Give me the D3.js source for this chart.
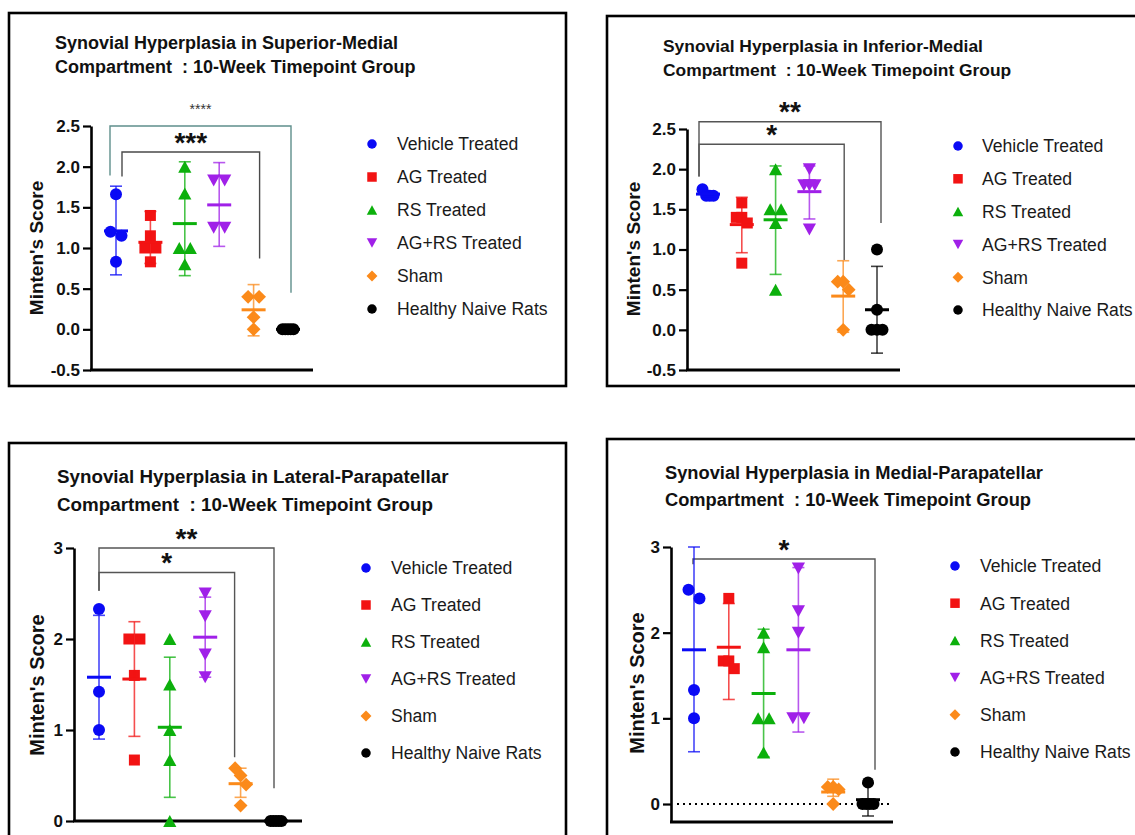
<!DOCTYPE html>
<html>
<head>
<meta charset="utf-8">
<script src="https://cdn.jsdelivr.net/npm/d3@7"></script>
<style>
  body { margin: 0; background: #fff; }
  svg { display: block; }
  .title { font-family: "Liberation Sans", Arial, sans-serif; font-weight: bold; fill: #111; white-space: pre; }
  .ylab { font-family: "Liberation Sans", Arial, sans-serif; font-weight: bold; fill: #111; }
  .tick text { font-family: "Liberation Sans", Arial, sans-serif; font-weight: bold; font-size: 17px; fill: #111; }
  .leg { font-family: "Liberation Sans", Arial, sans-serif; font-size: 17.6px; fill: #1a1a1a; }
</style>
</head>
<body>
<div id="chart-area"></div>
<script>
// groups + colours
var groups = ["Vehicle Treated", "AG Treated", "RS Treated", "AG+RS Treated", "Sham", "Healthy Naive Rats"];
var colors = ["#0a0af5", "#f21313", "#0cb00c", "#a020e8", "#fb8a1a", "#000000"];
var shapes = ["circle", "square", "triUp", "triDown", "diamond", "circle"];

// panel 1 - superior-medial
var sm_points = [[1.66, 1.2, 1.15, 0.83], [1.4, 1.15, 1.0, 1.0, 0.83], [2.0, 1.67, 1.0, 1.0, 0.8],
                 [1.83, 1.83, 1.25, 1.25], [0.4, 0.4, 0.15, 0], [0, 0, 0, 0, 0]];
var sm_mean = [1.21, 1.07, 1.3, 1.53, 0.24, 0];
var sm_hi = [1.76, 1.45, 2.06, 2.05, 0.55, 0];
var sm_lo = [0.67, 0.81, 0.66, 1.02, -0.08, 0];

// panel 2 - inferior-medial
var im_points = [[1.75, 1.67, 1.67, 1.67], [1.58, 1.4, 1.4, 1.33, 0.83], [2.0, 1.5, 1.5, 1.33, 0.5],
                 [2.0, 1.8, 1.8, 1.8, 1.25], [0.6, 0.6, 0.5, 0], [1.0, 0.25, 0, 0, 0]];
var im_mean = [1.69, 1.31, 1.37, 1.72, 0.42, 0.25];
var im_hi = [1.73, 1.65, 2.04, 2.04, 0.86, 0.79];
var im_lo = [1.66, 0.96, 0.69, 1.38, -0.03, -0.29];

// panel 3 - lateral-parapatellar
var lp_points = [[2.33, 1.42, 1.0], [2.0, 2.0, 1.6, 0.67], [2.0, 1.5, 1.0, 0.67, 0],
                 [2.5, 2.25, 1.83, 1.58], [0.58, 0.5, 0.4, 0.17], [0, 0, 0, 0, 0]];
var lp_mean = [1.58, 1.56, 1.03, 2.02, 0.41, 0];
var lp_hi = [2.26, 2.19, 1.8, 2.46, 0.58, 0];
var lp_lo = [0.9, 0.93, 0.26, 1.58, 0.26, 0];

// panel 4 - medial-parapatellar
var mp_points = [[2.5, 2.4, 1.33, 1.0], [2.4, 1.67, 1.67, 1.58], [2.0, 1.83, 1.0, 1.0, 0.6],
                 [2.75, 2.25, 2.0, 1.0, 1.0], [0.2, 0.2, 0.17, 0], [0.25, 0, 0, 0, 0]];
var mp_mean = [1.8, 1.83, 1.29, 1.8, 0.14, 0.05];
var mp_hi = [3.0, 2.34, 2.04, 2.76, 0.29, 0.24];
var mp_lo = [0.61, 1.22, 0.55, 0.84, 0.09, -0.14];

// significance brackets: [from, to, top, leftEnd, rightEnd, label]
var sm_sig = [[0, 5, 2.5, 1.89, 0.45, "****"], [0, 4, 2.18, 1.88, 0.87, "***"]];
var im_sig = [[0, 5, 2.59, 1.91, 1.33, "**"], [0, 4, 2.31, 1.91, 0.87, "*"]];
var lp_sig = [[0, 5, 3.0, 2.53, 0.36, "**"], [0, 4, 2.73, 2.53, 0.7, "*"]];
var mp_sig = [[0, 5, 2.86, 2.8, 0.4, "*"]];

var panels = [
  { frame: [9, 13, 566, 386], title: ["Synovial Hyperplasia in Superior-Medial", "Compartment  : 10-Week Timepoint Group"],
    tx: 55, ty: [49, 73], tsize: 18, ydom: [-0.5, 2.5], yr: [370, 126], ticks: [-0.5, 0, 0.5, 1, 1.5, 2, 2.5], fmt: ".1f",
    ax: 91, axEnd: 313, xr: [116, 288], lab: [36, 248, 19], leg: [372, 397, 144, 33],
    pts: sm_points, mean: sm_mean, hi: sm_hi, lo: sm_lo, sig: sm_sig,
    nudge: [[-6, 3], [6, 6]], sigCol: ["#5f8f8c", "#4a4a4a"], sigSize: [14, 28], sigW: ["normal", "bold"] },
  { frame: [607, 16, 1145, 386], title: ["Synovial Hyperplasia in Inferior-Medial", "Compartment  : 10-Week Timepoint Group"],
    tx: 663, ty: [52, 76], tsize: 17.4, ydom: [-0.5, 2.5], yr: [370, 129], ticks: [-0.5, 0, 0.5, 1, 1.5, 2, 2.5], fmt: ".1f",
    ax: 687, axEnd: 900, xr: [708, 877], lab: [633, 249, 19], leg: [958, 982, 146, 32.8],
    pts: im_points, mean: im_mean, hi: im_hi, lo: im_lo, sig: im_sig,
    nudge: [[-9, 4], [-9, 1]], sigCol: ["#555", "#555"], sigSize: [28, 28], sigW: ["bold", "bold"] },
  { frame: [9, 443, 566, 850], title: ["Synovial Hyperplasia in Lateral-Parapatellar", "Compartment  : 10-Week Timepoint Group"],
    tx: 57, ty: [483, 511], tsize: 18.8, ydom: [0, 3], yr: [821, 548], ticks: [0, 1, 2, 3], fmt: "d",
    ax: 74, axEnd: 302, xr: [99, 276], lab: [37, 685, 20], leg: [366, 391, 568, 37],
    pts: lp_points, mean: lp_mean, hi: lp_hi, lo: lp_lo, sig: lp_sig,
    nudge: [[0, -2], [0, -6]], sigCol: ["#555", "#555"], sigSize: [28, 28], sigW: ["bold", "bold"] },
  { frame: [607, 439, 1145, 850], title: ["Synovial Hyperplasia in Medial-Parapatellar", "Compartment  : 10-Week Timepoint Group"],
    tx: 665, ty: [479, 506], tsize: 18.3, ydom: [-0.21, 3], yr: [822, 547], ticks: [0, 1, 2, 3], fmt: "d",
    ax: 671, axEnd: 893, xr: [694, 868], lab: [637, 683, 20], leg: [955, 980, 566, 37.2],
    pts: mp_points, mean: mp_mean, hi: mp_hi, lo: mp_lo, sig: mp_sig, zeroLine: true,
    nudge: [[-1, 7]], sigCol: ["#555"], sigSize: [28], sigW: ["bold"] }
];

var svg = d3.select("#chart-area").append("svg")
  .attr("width", 1135)
  .attr("height", 835);

function marker(shape, s) {
  var h = s / 2;
  if (shape == "circle") return "M" + h + ",0A" + h + "," + h + " 0 1,1 " + (-h) + ",0A" + h + "," + h + " 0 1,1 " + h + ",0Z";
  if (shape == "square") return "M" + (-h) + "," + (-h) + "H" + h + "V" + h + "H" + (-h) + "Z";
  if (shape == "triUp") return "M0," + (-h) + "L" + (h * 1.1) + "," + h + "L" + (-h * 1.1) + "," + h + "Z";
  if (shape == "triDown") return "M0," + h + "L" + (h * 1.1) + "," + (-h) + "L" + (-h * 1.1) + "," + (-h) + "Z";
  return "M0," + (-h * 1.15) + "L" + (h * 1.15) + ",0L0," + (h * 1.15) + "L" + (-h * 1.15) + ",0Z";
}

// spread near-equal values sideways like prism does
function spread(vals, y) {
  var idx = vals.map((v, i) => i).sort((a, b) => vals[b] - vals[a]);
  var off = new Array(vals.length).fill(0);
  var clusters = [], cur = [idx[0]];
  for (var k = 1; k < idx.length; k++) {
    if (Math.abs(y(vals[idx[k]]) - y(vals[cur[cur.length - 1]])) < 10) cur.push(idx[k]);
    else { clusters.push(cur); cur = [idx[k]]; }
  }
  clusters.push(cur);
  clusters.forEach(c => {
    c.forEach((i, k) => { off[i] = c.length > 1 ? (k / (c.length - 1) - 0.5) * 11 : 0; });
  });
  return off;
}

panels.forEach(p => {
  var g = svg.append("g");

  // frame
  g.append("rect")
    .attr("x", p.frame[0]).attr("y", p.frame[1])
    .attr("width", p.frame[2] - p.frame[0]).attr("height", p.frame[3] - p.frame[1])
    .attr("fill", "none").attr("stroke", "#000").attr("stroke-width", 2.6);

  // title
  p.title.forEach((t, i) => {
    g.append("text").attr("class", "title")
      .attr("x", p.tx).attr("y", p.ty[i])
      .style("font-size", p.tsize + "px")
      .text(t);
  });

  var y = d3.scaleLinear().domain(p.ydom).range(p.yr);
  var x = d3.scalePoint().domain(groups).range(p.xr);

  // y axis
  var yAxisCall = d3.axisLeft(y).tickValues(p.ticks).tickSize(8).tickSizeOuter(0).tickPadding(3)
    .tickFormat(d3.format(p.fmt));
  var ya = g.append("g").attr("transform", "translate(" + p.ax + ",0)").call(yAxisCall);
  ya.select(".domain").attr("stroke-width", 2.6);
  ya.selectAll(".tick line").attr("stroke-width", 2.2);
  ya.selectAll(".tick text").text(d => d < 0 ? "-" + d3.format(p.fmt)(-d) : d3.format(p.fmt)(d));

  // x axis line
  g.append("line")
    .attr("x1", p.ax - 1).attr("x2", p.axEnd)
    .attr("y1", p.yr[0]).attr("y2", p.yr[0])
    .attr("stroke", "#000").attr("stroke-width", 3);

  if (p.zeroLine) {
    g.append("line")
      .attr("x1", p.ax + 6).attr("x2", p.axEnd)
      .attr("y1", y(0)).attr("y2", y(0))
      .attr("stroke", "#000").attr("stroke-width", 2.2)
      .attr("stroke-dasharray", "2,4");
  }

  // y label
  g.append("text").attr("class", "ylab")
    .attr("transform", "translate(" + p.lab[0] + "," + p.lab[1] + ") rotate(-90)")
    .attr("text-anchor", "middle").attr("dy", "0.35em")
    .style("font-size", p.lab[2] + "px")
    .text("Minten's Score");

  // significance brackets
  p.sig.forEach((s, i) => {
    var x1 = x(groups[s[0]]) + p.nudge[i][0], x2 = x(groups[s[1]]) + p.nudge[i][1];
    g.append("path")
      .attr("d", "M" + x1 + "," + y(s[3]) + "V" + y(s[2]) + "H" + x2 + "V" + y(s[4]))
      .attr("fill", "none").attr("stroke", p.sigCol[i]).attr("stroke-width", 1.4);
    var fs = p.sigSize[i];
    g.append("text")
      .attr("x", (x1 + x2) / 2)
      .attr("y", y(s[2]) + (fs > 20 ? 0.45 * fs - 13 : -12))
      .attr("text-anchor", "middle")
      .style("font-family", "Liberation Sans, Arial, sans-serif")
      .style("font-size", fs + "px").style("font-weight", p.sigW[i])
      .attr("fill", fs > 20 ? "#111" : "#333")
      .text(s[5]);
  });

  // points, then mean + sd on top
  groups.forEach((grp, gi) => {
    var cx = x(grp);
    var vals = p.pts[gi];
    var off = spread(vals, y);
    g.selectAll(null).data(vals).enter().append("path")
      .attr("d", marker(shapes[gi], shapes[gi] == "square" ? 11 : 12))
      .attr("transform", (d, i) => "translate(" + (cx + off[i]) + "," + y(d) + ")")
      .attr("fill", colors[gi]);

    var eg = g.append("g").attr("stroke", colors[gi]);
    eg.append("line").attr("x1", cx).attr("x2", cx).attr("y1", y(p.lo[gi])).attr("y2", y(p.hi[gi]))
      .attr("stroke-width", 1.6).attr("stroke-opacity", 0.75);
    [p.lo[gi], p.hi[gi]].forEach(v => {
      eg.append("line").attr("x1", cx - 6).attr("x2", cx + 6).attr("y1", y(v)).attr("y2", y(v))
        .attr("stroke-width", 1.6).attr("stroke-opacity", 0.75);
    });
    eg.append("line").attr("x1", cx - 12).attr("x2", cx + 12).attr("y1", y(p.mean[gi])).attr("y2", y(p.mean[gi]))
      .attr("stroke-width", 3);
  });

  // legend
  var lg = g.append("g");
  groups.forEach((grp, gi) => {
    var ly = p.leg[2] + gi * p.leg[3];
    lg.append("path").attr("d", marker(shapes[gi], 9.5))
      .attr("transform", "translate(" + p.leg[0] + "," + ly + ")")
      .attr("fill", colors[gi]);
    lg.append("text").attr("class", "leg")
      .attr("x", p.leg[1]).attr("y", ly).attr("dy", "0.36em")
      .text(grp);
  });
});
</script>
</body>
</html>
